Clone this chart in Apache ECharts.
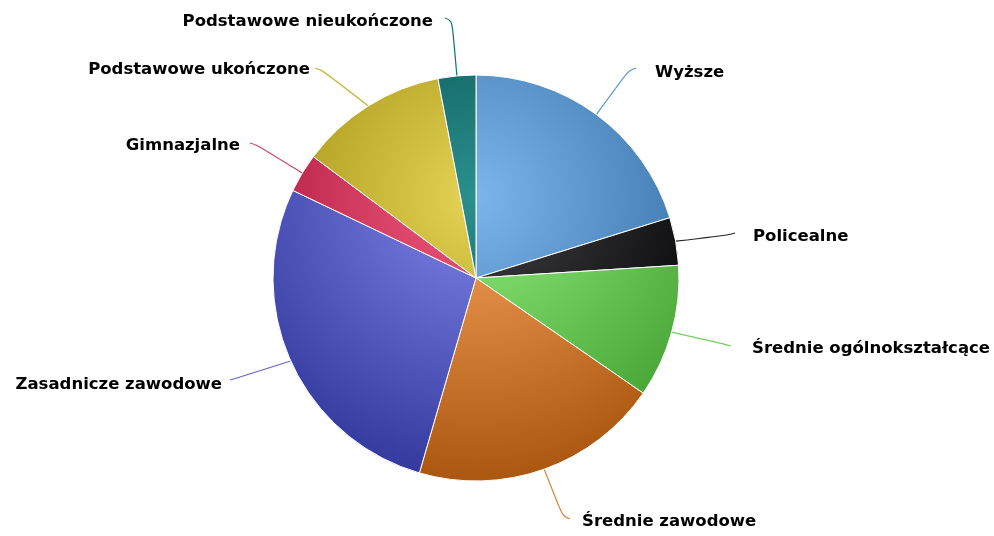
<!DOCTYPE html>
<html>
<head>
<meta charset="utf-8">
<script src="https://cdn.jsdelivr.net/npm/echarts@6/dist/echarts.min.js"></script>
<style>html,body{margin:0;padding:0;background:#fff}#c{width:994px;height:536px}</style>
</head>
<body>
<div id="c"></div>
<script>
const categories = ['Wyższe', 'Policealne', 'Średnie ogólnokształcące', 'Średnie zawodowe', 'Zasadnicze zawodowe', 'Gimnazjalne', 'Podstawowe ukończone', 'Podstawowe nieukończone'];
const values = [20.2, 3.8, 10.6, 19.9, 27.6, 3.1, 11.8, 3.0];
const baseColors = ['#7cb5ec', '#434348', '#90ed7d', '#f7a35c', '#8085e9', '#f15c80', '#e4d354', '#2b908f'];

// label layout (pixel positions of label text anchors and connector ends)
const labelAnchors = [[655, 73, 'left'], [753, 237, 'left'], [752, 349, 'left'], [582, 522, 'left'], [222, 385, 'right'], [240, 146, 'right'], [310, 70, 'right'], [433, 22, 'right']];
const lineEnds = [[636, 68], [735, 233], [731, 346], [570, 519], [230, 380], [250, 143], [315, 68], [445, 18]];

function darken(hex, amt) {
  const n = parseInt(hex.slice(1), 16);
  const r = Math.max(0, ((n >> 16) & 255) - amt);
  const g = Math.max(0, ((n >> 8) & 255) - amt);
  const b = Math.max(0, (n & 255) - amt);
  return 'rgb(' + r + ',' + g + ',' + b + ')';
}

const CX = 476, CY = 278, R = 203;

const data = categories.map((name, i) => ({
  name: name,
  value: values[i],
  itemStyle: {
    color: {
      type: 'radial', x: CX, y: CY - 0.2 * 2 * R, r: 0.7 * 2 * R, global: true,
      colorStops: [{ offset: 0, color: baseColors[i] }, { offset: 1, color: darken(baseColors[i], 76) }]
    }
  },
  labelLine: { lineStyle: { color: darken(baseColors[i], 30) } }
}));

const chart = echarts.init(document.getElementById('c'), null, { renderer: 'canvas' });
chart.setOption({
  backgroundColor: '#ffffff',
  animation: false,
  series: [{
    type: 'pie',
    center: [CX, CY],
    radius: R,
    startAngle: 90,
    clockwise: true,
    data: data,
    itemStyle: { borderColor: '#ffffff', borderWidth: 1 },
    label: {
      show: true,
      color: '#000000',
      fontFamily: 'DejaVu Sans',
      fontWeight: 'bold',
      fontSize: 16.5,
      formatter: '{b}'
    },
    labelLine: { show: true, length: 30, length2: 30, smooth: 0.5, lineStyle: { width: 1.2 } },
    labelLayout: function (params) {
      const i = params.dataIndex;
      const a = labelAnchors[i];
      const e = lineEnds[i];
      const start = params.labelLinePoints ? params.labelLinePoints[0] : [e[0], e[1]];
      const dir = a[2] === 'left' ? -1 : 1;
      const corner = [e[0] + dir * 7, e[1] + (start[1] > e[1] ? 2 : -2)];
      return {
        x: a[0],
        y: a[1],
        align: a[2],
        verticalAlign: 'middle',
        labelLinePoints: [start, corner, e]
      };
    }
  }]
});
</script>
</body>
</html>
